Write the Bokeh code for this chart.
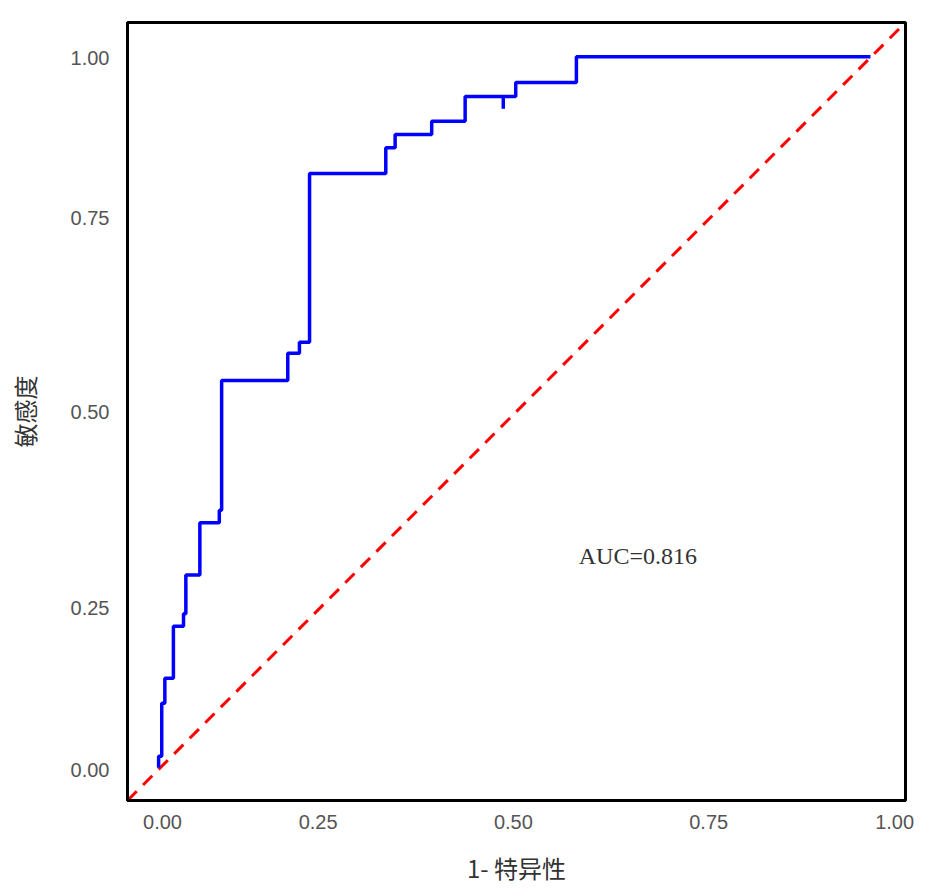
from bokeh.plotting import figure
from bokeh.models import Range1d, FixedTicker, Label
from bokeh.embed import file_html
from bokeh.resources import INLINE

fpr = [0.040, 0.040, 0.044, 0.044, 0.048, 0.048, 0.059, 0.059, 0.072, 0.072, 0.075, 0.075, 0.093, 0.093,
       0.118, 0.118, 0.121, 0.121, 0.206, 0.206, 0.221, 0.221, 0.234, 0.234, 0.332, 0.332, 0.344, 0.344,
       0.391, 0.391, 0.434, 0.434, 0.483, 0.483, 0.483, 0.499, 0.499, 0.577, 0.577, 0.955]
tpr = [0.042, 0.057, 0.057, 0.125, 0.125, 0.157, 0.157, 0.224, 0.224, 0.240, 0.240, 0.290, 0.290, 0.357,
       0.357, 0.373, 0.373, 0.540, 0.540, 0.575, 0.575, 0.589, 0.589, 0.806, 0.806, 0.839, 0.839, 0.856,
       0.856, 0.873, 0.873, 0.905, 0.905, 0.889, 0.905, 0.905, 0.923, 0.923, 0.956, 0.956]
ref_x = [0, 1]
ref_y = [0, 1]
x_tick_pos = [0.045, 0.245, 0.496, 0.747, 0.986]
y_tick_pos = [0.0386, 0.247, 0.499, 0.749, 0.955]
tick_labels = ["0.00", "0.25", "0.50", "0.75", "1.00"]
auc_text = "AUC=0.816"

p = figure(frame_width=778, frame_height=778, output_backend="svg", toolbar_location=None,
           x_range=Range1d(0, 1), y_range=Range1d(0, 1),
           min_border_left=127, min_border_top=22, min_border_right=16, min_border_bottom=80)
p.background_fill_color = "white"
p.border_fill_color = "white"
p.grid.visible = False
p.outline_line_color = "black"
p.outline_line_width = 3

p.xaxis.ticker = FixedTicker(ticks=x_tick_pos)
p.yaxis.ticker = FixedTicker(ticks=y_tick_pos)
p.xaxis.major_label_overrides = {t: l for t, l in zip(x_tick_pos, tick_labels)}
p.yaxis.major_label_overrides = {t: l for t, l in zip(y_tick_pos, tick_labels)}
for ax in (p.xaxis, p.yaxis):
    ax.axis_line_color = "black"
    ax.axis_line_width = 3
    ax.major_tick_in = 0
    ax.major_tick_out = 0
    ax.minor_tick_line_color = None
    ax.major_label_text_font = "Liberation Sans"
    ax.major_label_text_font_size = "20px"
    ax.major_label_text_color = "#555555"
    ax.axis_label_text_font = "Noto Sans CJK SC"
    ax.axis_label_text_font_size = "24px"
    ax.axis_label_text_font_style = "normal"
    ax.axis_label_text_color = "#333333"
p.xaxis.major_label_standoff = 14
p.yaxis.major_label_standoff = 18
p.xaxis.axis_label = "1- 特异性"
p.yaxis.axis_label = "敏感度"
p.xaxis.axis_label_standoff = 18
p.yaxis.axis_label_standoff = 26

p.line(ref_x, ref_y, line_color="red", line_width=3, line_dash="13 9")
p.line(fpr, tpr, line_color="blue", line_width=3.5)

p.add_layout(Label(x=0.580, y=0.314, text=auc_text, text_font="Liberation Serif",
                   text_font_size="24px", text_color="#333333", text_baseline="middle"))

open("out.html", "w").write(file_html(p, INLINE))
